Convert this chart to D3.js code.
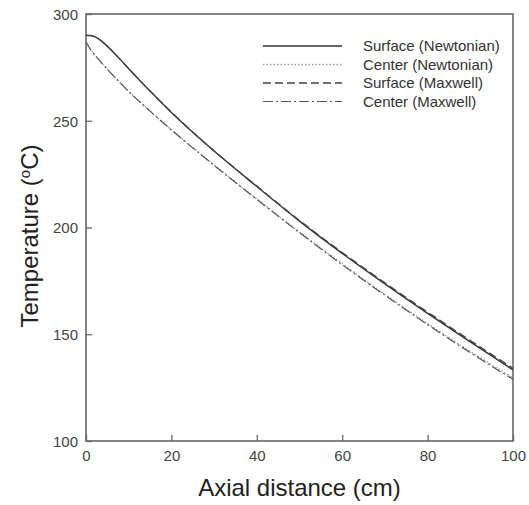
<!DOCTYPE html>
<html>
<head>
<meta charset="utf-8">
<script src="https://cdn.jsdelivr.net/npm/d3@7"></script>
<style>
  html, body { margin: 0; padding: 0; background: #fff; }
  svg { display: block; font-family: "Liberation Sans", Arial, sans-serif; }
</style>
</head>
<body>
<svg id="chart" width="529" height="505"></svg>
<script>
// ---- data ----
const distance       = [0, 1, 2, 3, 4, 5, 7.5, 10, 15, 20, 25, 30, 40, 50, 60, 70, 80, 90, 100];
const surfaceNewton  = [290, 289.9, 289.4, 288.3, 286.7, 284.9, 279.8, 274.4, 263.9, 253.9, 244.6, 235.8, 219.2, 203.0, 187.9, 173.6, 159.8, 146.4, 133.3];
const centerNewton   = [287.0, 283.6, 281.1, 278.7, 276.4, 274.2, 268.9, 263.8, 254.6, 245.8, 237.4, 229.3, 213.4, 197.9, 183.0, 168.7, 155.0, 142.0, 129.6];
const surfaceMaxwell = [290, 289.9, 289.4, 288.3, 286.7, 284.9, 279.8, 274.4, 263.9, 254.0, 244.7, 235.9, 219.4, 203.3, 188.3, 174.1, 160.4, 147.1, 134.1];
const centerMaxwell  = [287.0, 283.5, 281.0, 278.6, 276.3, 274.1, 268.8, 263.7, 254.5, 245.7, 237.3, 229.1, 213.2, 197.6, 182.6, 168.3, 154.5, 141.4, 128.9];
const xTicks = [0, 20, 40, 60, 80, 100];
const yTicks = [100, 150, 200, 250, 300];
const seriesNames = ["Surface (Newtonian)", "Center (Newtonian)", "Surface (Maxwell)", "Center (Maxwell)"];

// ---- layout ----
const svg = d3.select("#chart");
const L = 86, T = 14, W = 427, H = 427;
const x = d3.scaleLinear().domain([0, 100]).range([L, L + W]);
const y = d3.scaleLinear().domain([100, 300]).range([T + H, T]);

const styles = [
  { color: "#333", dash: null, width: 1.4 },
  { color: "#9a9a9a", dash: "1.5,2", width: 1.3 },
  { color: "#444", dash: "8,4", width: 1.3 },
  { color: "#555", dash: "10,3,2,3", width: 1.2 }
];
const allSeries = [surfaceNewton, centerNewton, surfaceMaxwell, centerMaxwell];

// axes
const axisColor = "#666";
const gx = svg.append("g").attr("transform", `translate(0,${T + H})`)
  .call(d3.axisBottom(x).tickValues(xTicks).tickSizeInner(-6).tickSizeOuter(0).tickPadding(0));
gx.select(".domain").remove();
gx.selectAll("line").attr("stroke", axisColor).attr("stroke-width", 1.3);
gx.selectAll("text").attr("y", 20).attr("dy", 0)
  .attr("fill", "#444").style("font-size", "15px").style("font-family", "Liberation Sans, Arial, sans-serif");

const gy = svg.append("g").attr("transform", `translate(${L},0)`)
  .call(d3.axisLeft(y).tickValues(yTicks).tickSizeInner(-6).tickSizeOuter(0).tickPadding(0));
gy.select(".domain").remove();
gy.selectAll("line").attr("stroke", axisColor).attr("stroke-width", 1.3);
gy.selectAll("text").attr("x", -8).attr("dy", "0.35em")
  .attr("fill", "#444").style("font-size", "15px").style("font-family", "Liberation Sans, Arial, sans-serif");

// frame
svg.append("rect").attr("x", L).attr("y", T).attr("width", W).attr("height", H)
  .attr("fill", "none").attr("stroke", axisColor).attr("stroke-width", 1.6);

// lines
const line = d3.line().x(d => x(d[0])).y(d => y(d[1])).curve(d3.curveMonotoneX);
svg.append("clipPath").attr("id", "clip").append("rect")
  .attr("x", L).attr("y", T).attr("width", W).attr("height", H);
allSeries.forEach((vals, i) => {
  const pts = distance.map((d, j) => [d, vals[j]]);
  svg.append("path").datum(pts)
    .attr("d", line)
    .attr("fill", "none")
    .attr("stroke", styles[i].color)
    .attr("stroke-width", styles[i].width)
    .attr("stroke-dasharray", styles[i].dash)
    .attr("clip-path", "url(#clip)");
});

// legend
const legY = [46, 64.5, 83, 101.5];
seriesNames.forEach((name, i) => {
  svg.append("line").attr("x1", 263).attr("x2", 342).attr("y1", legY[i]).attr("y2", legY[i])
    .attr("stroke", styles[i].color).attr("stroke-width", styles[i].width)
    .attr("stroke-dasharray", styles[i].dash);
  svg.append("text").attr("x", 363).attr("y", legY[i]).attr("dy", "0.35em")
    .attr("fill", "#333").style("font-size", "15px").text(name);
});

// axis titles
svg.append("text").attr("x", L + W / 2).attr("y", 496).attr("text-anchor", "middle")
  .attr("fill", "#222").style("font-size", "24px").text("Axial distance (cm)");

const yt = svg.append("text").attr("transform", "translate(38,236) rotate(-90)")
  .attr("text-anchor", "middle").attr("fill", "#222").style("font-size", "24px");
yt.append("tspan").text("Temperature (");
yt.append("tspan").attr("baseline-shift", "super").style("font-size", "15px").text("o");
yt.append("tspan").text("C)");
</script>
</body>
</html>
